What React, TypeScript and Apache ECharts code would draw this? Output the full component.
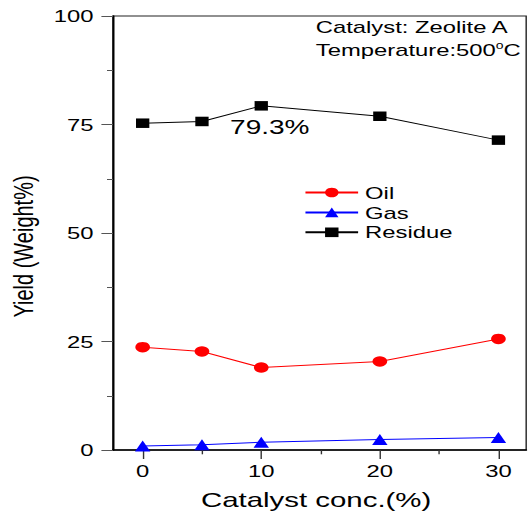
import React, { useEffect, useRef } from "react";
import * as echarts from "echarts";

const concentrations = [0, 5, 10, 20, 30];
const oilYield = [23.7, 22.7, 19.0, 20.4, 25.6];
const gasYield = [0.9, 1.2, 1.8, 2.4, 2.9];
const residueYield = [75.3, 75.7, 79.3, 76.9, 71.4];
const xMajorTicks = [0, 10, 20, 30];
const xMinorTicks = [5, 15, 25];
const seriesNames = ["Oil", "Gas", "Residue"];

const STRETCH = 528 / 377;
const FONT = "'Liberation Sans', Arial, Helvetica, sans-serif";

function pairs(vals: number[]) {
  return concentrations.map((c, i) => [c, vals[i]]);
}

export default function App() {
  const ref = useRef<HTMLDivElement>(null);
  useEffect(() => {
    if (!ref.current) return;
    const chart = echarts.init(ref.current, null, { renderer: "svg" });
    const xMin = -2.5;
    const xMax = 32.34;
    chart.setOption({
      animation: false,
      backgroundColor: "#fff",
      textStyle: { fontFamily: FONT },
      grid: {
        left: 80.7,
        right: 1.3,
        top: 16,
        bottom: 61,
        show: true,
        borderColor: "#222",
        borderWidth: 1,
        containLabel: false,
        outerBoundsMode: "none",
      },
      xAxis: [
        {
          type: "value",
          min: xMin,
          max: xMax,
          position: "bottom",
          axisLine: { show: true, onZero: false, lineStyle: { color: "#000", width: 1.5 } },
          axisTick: { show: true, customValues: xMajorTicks, length: 9, lineStyle: { color: "#333" } },
          axisLabel: { customValues: xMajorTicks, fontSize: 17, color: "#000", margin: 12, fontFamily: FONT },
          splitLine: { show: false },
        },
        {
          type: "value",
          min: xMin,
          max: xMax,
          position: "bottom",
          axisLine: { show: false, onZero: false },
          axisTick: { show: true, customValues: xMinorTicks, length: 4.3, lineStyle: { color: "#333" } },
          axisLabel: { show: false },
          splitLine: { show: false },
        },
      ],
      yAxis: {
        type: "value",
        min: 0,
        max: 100,
        interval: 25,
        axisLine: { show: true, onZero: false, lineStyle: { color: "#000", width: 1.5 } },
        axisTick: { show: true, length: 8.3, lineStyle: { color: "#555" } },
        minorTick: { show: true, splitNumber: 2, length: 4.3, lineStyle: { color: "#555" } },
        axisLabel: { fontSize: 17, color: "#000", margin: 14, fontFamily: FONT },
        splitLine: { show: false },
        minorSplitLine: { show: false },
      },
      legend: {
        data: seriesNames,
        orient: "vertical",
        left: 217.1,
        top: 184,
        padding: 0,
        itemWidth: 37.6,
        itemHeight: 12,
        itemGap: 2.9,
        textStyle: { fontSize: 17, color: "#000", fontFamily: FONT },
      },
      series: [
        {
          name: seriesNames[0],
          type: "line",
          xAxisIndex: 0,
          data: pairs(oilYield),
          symbol: "circle",
          symbolSize: 10.5,
          itemStyle: { color: "#ff0000" },
          lineStyle: { color: "#ff0000", width: 1 },
        },
        {
          name: seriesNames[1],
          type: "line",
          xAxisIndex: 0,
          data: pairs(gasYield),
          symbol: "triangle",
          symbolSize: 11,
          itemStyle: { color: "#0000ff" },
          lineStyle: { color: "#0000ff", width: 1 },
        },
        {
          name: seriesNames[2],
          type: "line",
          xAxisIndex: 0,
          data: pairs(residueYield),
          symbol: "rect",
          symbolSize: 9.5,
          itemStyle: { color: "#000" },
          lineStyle: { color: "#000", width: 1 },
        },
      ],
      graphic: [
        {
          type: "text",
          x: 225.5,
          y: 27,
          style: { text: "Catalyst: Zeolite A", fontSize: 17, fill: "#000", fontFamily: FONT, verticalAlign: "middle", align: "left" },
        },
        {
          type: "text",
          x: 225.5,
          y: 50,
          style: {
            text: "{n|Temperature:500}{s|o}{n|C}",
            verticalAlign: "middle",
            align: "left",
            fontFamily: FONT,
            rich: {
              n: { fontSize: 17, fill: "#000", fontFamily: FONT },
              s: { fontSize: 10, fill: "#000", fontFamily: FONT, padding: [0, 0, 9, 0] },
            },
          },
        },
        {
          type: "text",
          x: 164.3,
          y: 127,
          style: { text: "79.3%", fontSize: 20, fill: "#000", fontFamily: FONT, verticalAlign: "middle", align: "left" },
        },
        {
          type: "text",
          x: 16.7,
          y: 246.5,
          rotation: Math.PI / 2,
          style: { text: "Yield (Weight%)", fontSize: 20, fill: "#000", fontFamily: FONT, verticalAlign: "middle", align: "center" },
        },
        {
          type: "text",
          x: 225.7,
          y: 500,
          style: { text: "Catalyst conc.(%)", fontSize: 21, fill: "#000", fontFamily: FONT, verticalAlign: "middle", align: "center" },
        },
      ],
    });
    return () => chart.dispose();
  }, []);
  return (
    <div
      ref={ref}
      style={{
        position: "absolute",
        left: 0,
        top: 0,
        width: 377,
        height: 511,
        transform: `scaleX(${STRETCH})`,
        transformOrigin: "0 0",
      }}
    />
  );
}
